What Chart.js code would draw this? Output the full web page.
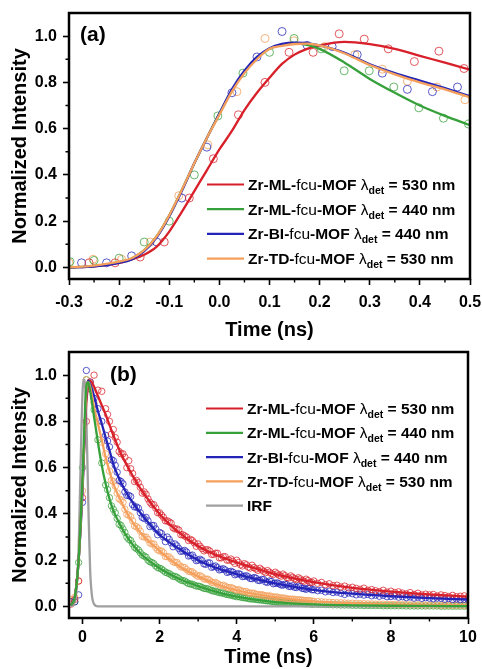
<!DOCTYPE html>
<html>
<head>
<meta charset="utf-8">
<script src="https://cdn.jsdelivr.net/npm/chart.js@4.4.1/dist/chart.umd.min.js"></script>
<style>
  html, body { margin: 0; padding: 0; background: #fff; }
  #wrapA { position: absolute; left: 0; top: 0; width: 482px; height: 345px; }
  #wrapB { position: absolute; left: 0; top: 345px; width: 482px; height: 324px; }
</style>
</head>
<body>
<div id="wrapA"><canvas id="chartA"></canvas></div>
<div id="wrapB"><canvas id="chartB"></canvas></div>
<script>
// ---- legend text ----
const legendNames = ['Zr-ML-fcu-MOF', 'Zr-ML-fcu-MOF', 'Zr-BI-fcu-MOF', 'Zr-TD-fcu-MOF'];
const legendWaves = ['530', '440', '440', '530'];

// ---- panel (a): rise, -0.3 .. 0.5 ns ----
const xTicksA = [-0.3, -0.2, -0.1, 0, 0.1, 0.2, 0.3, 0.4, 0.5];
const xMinorA = [-0.25, -0.15, -0.05, 0.05, 0.15, 0.25, 0.35, 0.45];
const yTicks = [0, 0.2, 0.4, 0.6, 0.8, 1.0];
const yMinor = [0.1, 0.3, 0.5, 0.7, 0.9];

const tRedA = [-0.26, -0.208, -0.158, -0.11, -0.06, -0.012, 0.038, 0.091, 0.139, 0.187, 0.239, 0.289, 0.337, 0.389, 0.438, 0.488];
const redA = [0.02, 0.02, 0.045, 0.11, 0.30, 0.47, 0.66, 0.80, 0.93, 0.93, 1.01, 0.987, 0.945, 0.89, 0.935, 0.86];
const tGreenA = [-0.298, -0.25, -0.2, -0.15, -0.1, -0.05, -0.003, 0.047, 0.1, 0.149, 0.203, 0.249, 0.299, 0.348, 0.398, 0.447, 0.497];
const greenA = [0.025, 0.03, 0.04, 0.11, 0.2, 0.40, 0.655, 0.84, 0.93, 0.99, 0.945, 0.85, 0.85, 0.78, 0.69, 0.645, 0.62];
const tBlueA = [-0.275, -0.225, -0.175, -0.125, -0.075, -0.025, 0.025, 0.075, 0.125, 0.175, 0.225, 0.275, 0.325, 0.375, 0.425, 0.475];
const blueA = [0.02, 0.02, 0.05, 0.11, 0.30, 0.52, 0.755, 0.91, 1.02, 0.96, 0.955, 0.92, 0.84, 0.77, 0.76, 0.78];
const tOrangeA = [-0.30, -0.252, -0.195, -0.138, -0.081, -0.023, 0.035, 0.091, 0.149, 0.21, 0.27, 0.325, 0.375, 0.434, 0.49];
const orangeA = [0.02, 0.035, 0.035, 0.11, 0.31, 0.53, 0.76, 0.99, 0.98, 0.955, 0.92, 0.857, 0.805, 0.78, 0.725];

// fitted curves (a)
const tFitA = [-0.3, -0.25, -0.2, -0.175, -0.15, -0.125, -0.1, -0.075, -0.05, -0.025, 0, 0.025, 0.05, 0.075, 0.1, 0.125, 0.15, 0.175, 0.2, 0.25, 0.3, 0.35, 0.4, 0.45, 0.5];
const redFitA = [0, 0.005, 0.02, 0.035, 0.055, 0.09, 0.155, 0.24, 0.33, 0.42, 0.51, 0.59, 0.68, 0.755, 0.82, 0.88, 0.92, 0.945, 0.96, 0.975, 0.965, 0.945, 0.915, 0.885, 0.855];
const greenFitA = [0, 0.006, 0.022, 0.038, 0.075, 0.135, 0.225, 0.335, 0.45, 0.56, 0.665, 0.765, 0.845, 0.905, 0.945, 0.962, 0.968, 0.962, 0.945, 0.885, 0.815, 0.755, 0.70, 0.655, 0.615];
const blueFitA = [0, 0.005, 0.02, 0.035, 0.07, 0.13, 0.22, 0.33, 0.45, 0.56, 0.665, 0.77, 0.85, 0.91, 0.948, 0.966, 0.972, 0.97, 0.96, 0.928, 0.878, 0.84, 0.808, 0.775, 0.74];
const orangeFitA = [0, 0.008, 0.025, 0.04, 0.075, 0.135, 0.225, 0.335, 0.45, 0.56, 0.66, 0.76, 0.84, 0.9, 0.945, 0.958, 0.966, 0.968, 0.96, 0.925, 0.875, 0.835, 0.8, 0.77, 0.735];

// ---- panel (b): decay, -0.35 .. 10 ns ----
const xTicksB = [0, 2, 4, 6, 8, 10];
const xMinorB = [1, 3, 5, 7, 9];

const tB = [
  -0.3, -0.2, -0.1, 0, 0.1, 0.2, 0.3, 0.4, 0.5, 0.6,
  0.7, 0.8, 0.9, 1.0, 1.1, 1.2, 1.3, 1.4, 1.5, 1.6,
  1.7, 1.8, 1.9, 2.0, 2.1, 2.2, 2.3, 2.4, 2.5, 2.6,
  2.7, 2.8, 2.9, 3.0, 3.1, 3.2, 3.3, 3.4, 3.5, 3.6,
  3.7, 3.8, 3.9, 4.0, 4.1, 4.2, 4.3, 4.4, 4.5, 4.6,
  4.7, 4.8, 4.9, 5.0, 5.1, 5.2, 5.3, 5.4, 5.5, 5.6,
  5.7, 5.8, 5.9, 6.0, 6.1, 6.2, 6.3, 6.4, 6.5, 6.6,
  6.7, 6.8, 6.9, 7.0, 7.1, 7.2, 7.3, 7.4, 7.5, 7.6,
  7.7, 7.8, 7.9, 8.0, 8.1, 8.2, 8.3, 8.4, 8.5, 8.6,
  8.7, 8.8, 8.9, 9.0, 9.1, 9.2, 9.3, 9.4, 9.5, 9.6,
  9.7, 9.8, 9.9, 10.0
];
const redB = [
  0.01, 0.03, 0.11, 0.47, 0.80, 0.97, 1.00, 0.935, 0.93, 0.855,
  0.80, 0.765, 0.71, 0.66, 0.645, 0.63, 0.575, 0.545, 0.515, 0.495,
  0.465, 0.44, 0.425, 0.405, 0.385, 0.37, 0.36, 0.335, 0.33, 0.31,
  0.30, 0.29, 0.275, 0.27, 0.25, 0.245, 0.24, 0.225, 0.23, 0.21,
  0.215, 0.20, 0.195, 0.20, 0.18, 0.185, 0.17, 0.178, 0.162, 0.165,
  0.152, 0.155, 0.142, 0.148, 0.135, 0.14, 0.125, 0.132, 0.12, 0.124,
  0.112, 0.118, 0.104, 0.11, 0.10, 0.104, 0.094, 0.098, 0.09, 0.092,
  0.084, 0.088, 0.08, 0.083, 0.078, 0.074, 0.079, 0.07, 0.073, 0.068,
  0.064, 0.07, 0.062, 0.066, 0.06, 0.063, 0.058, 0.054, 0.06, 0.052,
  0.057, 0.05, 0.053, 0.05, 0.052, 0.045, 0.05, 0.047, 0.043, 0.048,
  0.042, 0.044, 0.046, 0.04
];
const greenB = [
  0.02, 0.02, 0.19, 0.60, 0.98, 0.94, 0.85, 0.72, 0.62, 0.525,
  0.47, 0.42, 0.38, 0.35, 0.32, 0.29, 0.27, 0.25, 0.232, 0.218,
  0.2, 0.19, 0.175, 0.165, 0.155, 0.145, 0.136, 0.13, 0.12, 0.112,
  0.104, 0.097, 0.092, 0.088, 0.082, 0.077, 0.072, 0.066, 0.062, 0.058,
  0.054, 0.05, 0.046, 0.042, 0.04, 0.037, 0.034, 0.032, 0.03, 0.028,
  0.026, 0.024, 0.022, 0.019, 0.018, 0.017, 0.016, 0.015, 0.014, 0.013,
  0.012, 0.011, 0.011, 0.01, 0.009, 0.009, 0.008, 0.008, 0.007, 0.007,
  0.006, 0.006, 0.006, 0.005, 0.005, 0.005, 0.004, 0.004, 0.004, 0.004,
  0.004, 0.003, 0.003, 0.003, 0.003, 0.003, 0.003, 0.002, 0.002, 0.002,
  0.002, 0.002, 0.002, 0.002, 0.002, 0.002, 0.001, 0.001, 0.001, 0.001,
  0.001, 0.001, 0.001, 0.001
];
const blueB = [
  0.02, 0.02, 0.05, 0.45, 1.02, 0.97, 0.90, 0.855, 0.80, 0.74,
  0.69, 0.63, 0.58, 0.54, 0.495, 0.48, 0.44, 0.43, 0.405, 0.38,
  0.37, 0.35, 0.335, 0.32, 0.30, 0.30, 0.275, 0.27, 0.25, 0.24,
  0.235, 0.22, 0.21, 0.20, 0.198, 0.182, 0.188, 0.172, 0.168, 0.16,
  0.158, 0.15, 0.148, 0.14, 0.138, 0.13, 0.128, 0.12, 0.122, 0.112,
  0.116, 0.104, 0.108, 0.10, 0.098, 0.092, 0.094, 0.086, 0.083, 0.088,
  0.078, 0.074, 0.079, 0.072, 0.068, 0.07, 0.063, 0.066, 0.06, 0.062,
  0.057, 0.052, 0.058, 0.055, 0.05, 0.053, 0.049, 0.052, 0.046, 0.049,
  0.044, 0.048, 0.042, 0.043, 0.045, 0.04, 0.042, 0.038, 0.041, 0.036,
  0.04, 0.035, 0.038, 0.036, 0.033, 0.036, 0.035, 0.031, 0.034, 0.03,
  0.032, 0.029, 0.031, 0.03
];
const orangeB = [
  0.03, 0.04, 0.11, 0.50, 0.98, 0.96, 0.88, 0.80, 0.71, 0.66,
  0.585, 0.54, 0.49, 0.46, 0.42, 0.395, 0.37, 0.345, 0.325, 0.30,
  0.29, 0.27, 0.255, 0.24, 0.232, 0.215, 0.205, 0.19, 0.18, 0.17,
  0.16, 0.15, 0.142, 0.13, 0.128, 0.118, 0.112, 0.102, 0.098, 0.09,
  0.088, 0.08, 0.078, 0.07, 0.068, 0.064, 0.058, 0.057, 0.052, 0.05,
  0.048, 0.044, 0.043, 0.04, 0.037, 0.036, 0.032, 0.031, 0.03, 0.028,
  0.027, 0.025, 0.024, 0.022, 0.021, 0.02, 0.019, 0.018, 0.017, 0.016,
  0.016, 0.015, 0.014, 0.014, 0.013, 0.012, 0.012, 0.011, 0.011, 0.01,
  0.01, 0.01, 0.009, 0.009, 0.009, 0.008, 0.008, 0.008, 0.007, 0.007,
  0.007, 0.007, 0.006, 0.006, 0.006, 0.006, 0.005, 0.005, 0.005, 0.005,
  0.005, 0.005, 0.004, 0.005
];

// in-between samples, 0.65 .. 5.95 ns
const tB2 = [
  0.65, 0.75, 0.85, 0.95, 1.05, 1.15, 1.25, 1.35, 1.45, 1.55,
  1.65, 1.75, 1.85, 1.95, 2.05, 2.15, 2.25, 2.35, 2.45, 2.55,
  2.65, 2.75, 2.85, 2.95, 3.05, 3.15, 3.25, 3.35, 3.45, 3.55,
  3.65, 3.75, 3.85, 3.95, 4.05, 4.15, 4.25, 4.35, 4.45, 4.55,
  4.65, 4.75, 4.85, 4.95, 5.05, 5.15, 5.25, 5.35, 5.45, 5.55,
  5.65, 5.75, 5.85, 5.95
];
const redB2 = [
  0.83, 0.745, 0.73, 0.67, 0.66, 0.60, 0.595, 0.54, 0.535, 0.49,
  0.485, 0.45, 0.44, 0.405, 0.395, 0.37, 0.365, 0.34, 0.335, 0.31,
  0.305, 0.285, 0.285, 0.26, 0.26, 0.24, 0.245, 0.225, 0.23, 0.21,
  0.215, 0.2, 0.205, 0.186, 0.19, 0.175, 0.18, 0.166, 0.168, 0.156,
  0.158, 0.146, 0.148, 0.138, 0.141, 0.131, 0.133, 0.123, 0.126, 0.116,
  0.119, 0.109, 0.112, 0.104
];
const blueB2 = [
  0.715, 0.635, 0.61, 0.545, 0.53, 0.48, 0.475, 0.43, 0.425, 0.385,
  0.385, 0.345, 0.35, 0.31, 0.315, 0.28, 0.29, 0.258, 0.262, 0.238,
  0.242, 0.218, 0.222, 0.198, 0.204, 0.184, 0.188, 0.169, 0.175, 0.158,
  0.163, 0.147, 0.152, 0.137, 0.142, 0.129, 0.133, 0.121, 0.125, 0.113,
  0.117, 0.106, 0.11, 0.098, 0.102, 0.093, 0.096, 0.087, 0.09, 0.082,
  0.085, 0.077, 0.079, 0.072
];
const orangeB2 = [
  0.63, 0.545, 0.52, 0.465, 0.45, 0.398, 0.388, 0.348, 0.338, 0.303,
  0.3, 0.274, 0.27, 0.245, 0.24, 0.216, 0.214, 0.193, 0.19, 0.171,
  0.168, 0.152, 0.15, 0.135, 0.133, 0.119, 0.118, 0.105, 0.104, 0.093,
  0.092, 0.083, 0.082, 0.074, 0.073, 0.066, 0.065, 0.058, 0.057, 0.052,
  0.051, 0.046, 0.046, 0.041, 0.041, 0.037, 0.036, 0.032, 0.032, 0.029,
  0.029, 0.026, 0.026, 0.023
];
const greenB2 = [
  0.505, 0.435, 0.405, 0.355, 0.335, 0.3, 0.285, 0.256, 0.244, 0.222,
  0.213, 0.193, 0.185, 0.168, 0.162, 0.148, 0.142, 0.13, 0.126, 0.114,
  0.11, 0.099, 0.096, 0.088, 0.086, 0.078, 0.076, 0.069, 0.066, 0.06,
  0.058, 0.052, 0.05, 0.045, 0.043, 0.039, 0.037, 0.033, 0.032, 0.029,
  0.028, 0.025, 0.024, 0.021, 0.02, 0.018, 0.018, 0.016, 0.016, 0.014,
  0.014, 0.012, 0.012, 0.01
];

// fitted curves (b)
const tFitB = [-0.3, -0.2, -0.1, 0, 0.1, 0.15, 0.2, 0.3, 0.4, 0.5, 0.6, 0.7, 0.8, 1.0, 1.2, 1.5, 2, 2.5, 3, 3.5, 4, 5, 6, 7, 8, 9, 10];
const redFitB = [0.005, 0.04, 0.2, 0.52, 0.88, 0.955, 0.975, 0.95, 0.91, 0.87, 0.83, 0.785, 0.74, 0.66, 0.595, 0.51, 0.40, 0.32, 0.26, 0.22, 0.19, 0.14, 0.105, 0.08, 0.064, 0.052, 0.042];
const greenFitB = [0.005, 0.04, 0.2, 0.55, 0.95, 0.97, 0.93, 0.82, 0.71, 0.61, 0.53, 0.465, 0.415, 0.345, 0.29, 0.23, 0.165, 0.12, 0.088, 0.062, 0.042, 0.019, 0.009, 0.005, 0.003, 0.002, 0.001];
const blueFitB = [0.005, 0.04, 0.2, 0.5, 0.92, 0.975, 0.96, 0.91, 0.845, 0.79, 0.73, 0.675, 0.615, 0.535, 0.475, 0.405, 0.31, 0.25, 0.20, 0.165, 0.14, 0.10, 0.072, 0.055, 0.044, 0.036, 0.03];
const orangeFitB = [0.005, 0.04, 0.2, 0.52, 0.93, 0.97, 0.95, 0.86, 0.79, 0.72, 0.645, 0.585, 0.53, 0.455, 0.39, 0.32, 0.24, 0.175, 0.13, 0.095, 0.07, 0.04, 0.022, 0.014, 0.009, 0.007, 0.005];
const tIrf = [-0.3, -0.2, -0.15, -0.1, -0.05, 0, 0.04, 0.08, 0.12, 0.16, 0.2, 0.25, 0.3, 0.4, 1, 10];
const irf = [0, 0.02, 0.08, 0.25, 0.6, 0.92, 0.98, 0.92, 0.68, 0.38, 0.15, 0.04, 0.01, 0, 0, 0];

// ---------------------------------------------------------------
Chart.defaults.font.family = '"Liberation Sans", Arial, sans-serif';
Chart.defaults.color = '#000';

const colors = ['#D8202A', '#36A03A', '#2323B8', '#F4A05C'];
const dotColors = ['rgba(216,32,42,0.75)', 'rgba(54,160,58,0.75)', 'rgba(35,35,184,0.75)', 'rgba(244,160,92,0.8)'];
const irfColor = '#A0A0A0';
const FONT = '"Liberation Sans", Arial, sans-serif';

function pts(ts, vs) {
  return ts.map((t, i) => ({ x: t, y: vs[i] }));
}

function fitSet(ts, vs, color, order) {
  return {
    type: 'line', data: pts(ts, vs), borderColor: color, borderWidth: 2.3,
    pointRadius: 0, fill: false, cubicInterpolationMode: 'monotone', order: order
  };
}

function dotSet(ts, vs, color, r) {
  return {
    type: 'scatter', data: pts(ts, vs), showLine: false, borderColor: color,
    backgroundColor: 'transparent', pointRadius: r, pointBorderWidth: 1, order: 10
  };
}

function labelRuns(name, wave) {
  const parts = name.split('fcu');
  return [
    { t: parts[0], b: true }, { t: 'fcu', b: false }, { t: parts[1] + ' ', b: true },
    { t: 'λ', b: false }, { t: 'det', b: true, sub: true }, { t: ' = ' + wave + ' nm', b: true }
  ];
}

function drawRuns(ctx, x, y, runs) {
  runs.forEach(r => {
    ctx.font = (r.b ? 'bold ' : '') + (r.sub ? '10.5px ' : '15.5px ') + FONT;
    ctx.fillText(r.t, x, r.sub ? y + 4 : y);
    x += ctx.measureText(r.t).width;
  });
}

// frame, minor ticks, panel tag and legend
const decor = {
  id: 'decor',
  afterDraw(chart, args, o) {
    const ctx = chart.ctx, a = chart.chartArea;
    const sx = chart.scales.x, sy = chart.scales.y;
    ctx.save();
    ctx.strokeStyle = '#000';
    ctx.lineWidth = 1.4;
    ctx.beginPath();
    o.xMinor.forEach(v => {
      const px = sx.getPixelForValue(v);
      ctx.moveTo(px, a.bottom); ctx.lineTo(px, a.bottom + 3.5);
    });
    o.yMinor.forEach(v => {
      const py = sy.getPixelForValue(v);
      ctx.moveTo(a.left, py); ctx.lineTo(a.left - 3.5, py);
    });
    ctx.stroke();
    ctx.lineWidth = 2.5;
    ctx.strokeRect(a.left, a.top, a.right - a.left, a.bottom - a.top);

    ctx.fillStyle = '#000';
    ctx.textBaseline = 'middle';
    ctx.font = 'bold 21px ' + FONT;
    ctx.fillText(o.tag, o.tagX, o.tagY);

    ctx.textBaseline = 'alphabetic';
    o.entries.forEach((e, i) => {
      const y = o.legY + i * o.legStep;
      ctx.strokeStyle = e.color;
      ctx.lineWidth = 2.2;
      ctx.beginPath(); ctx.moveTo(o.legX, y); ctx.lineTo(o.legX + 37, y); ctx.stroke();
      ctx.fillStyle = '#000';
      drawRuns(ctx, o.legX + 41, y + 5.5, e.runs);
    });
    ctx.restore();
  }
};

function axes(o) {
  return {
    x: {
      type: 'linear', min: o.xMin, max: o.xMax,
      afterBuildTicks: s => { s.ticks = o.xTicks.map(v => ({ value: v })); },
      afterFit: s => { s.height = o.xH; s.paddingLeft = 0; s.paddingRight = 0; },
      ticks: {
        font: { size: 16, weight: 'bold' }, color: '#000', padding: o.xPad,
        maxRotation: 0, autoSkip: false, callback: o.xFmt
      },
      grid: { drawOnChartArea: false, drawTicks: true, tickLength: 6, tickWidth: 1.6, tickColor: '#000' },
      border: { display: false },
      title: { display: true, text: 'Time (ns)', color: '#000', font: { size: 20, weight: 'bold' }, padding: { top: 0, bottom: o.titlePad } }
    },
    y: {
      type: 'linear', min: -0.05, max: 1.1,
      afterBuildTicks: s => { s.ticks = yTicks.map(v => ({ value: v })); },
      afterFit: s => { s.width = 69; s.paddingTop = 0; s.paddingBottom = 0; },
      ticks: { font: { size: 16, weight: 'bold' }, color: '#000', padding: 6, callback: v => v.toFixed(1) },
      grid: { drawOnChartArea: false, drawTicks: true, tickLength: 6, tickWidth: 1.6, tickColor: '#000' },
      border: { display: false },
      title: { display: true, text: 'Normalized Intensity', color: '#000', font: { size: 20, weight: 'bold' }, padding: { top: 8, bottom: 0 } }
    }
  };
}

const entriesMain = legendNames.map((n, i) => ({ color: colors[i], runs: labelRuns(n, legendWaves[i]) }));

new Chart(document.getElementById('chartA'), {
  type: 'scatter',
  data: {
    datasets: [
      fitSet(tFitA, redFitA, colors[0], 4),
      fitSet(tFitA, greenFitA, colors[1], 3),
      fitSet(tFitA, blueFitA, colors[2], 2),
      fitSet(tFitA, orangeFitA, colors[3], 1),
      dotSet(tRedA, redA, dotColors[0], 4),
      dotSet(tGreenA, greenA, dotColors[1], 4),
      dotSet(tBlueA, blueA, dotColors[2], 4),
      dotSet(tOrangeA, orangeA, dotColors[3], 4)
    ]
  },
  options: {
    responsive: true, maintainAspectRatio: false, animation: false, events: [],
    layout: { padding: { top: 13, right: 12, left: 0, bottom: 0 } },
    scales: axes({ xMin: -0.3, xMax: 0.5, xTicks: xTicksA, xH: 66, xPad: 8, titlePad: 3, xFmt: v => v.toFixed(1) }),
    plugins: {
      legend: { display: false }, tooltip: { enabled: false },
      decor: { xMinor: xMinorA, yMinor: yMinor, tag: '(a)', tagX: 80, tagY: 35, legX: 207, legY: 184.5, legStep: 24.7, entries: entriesMain }
    }
  },
  plugins: [decor]
});

new Chart(document.getElementById('chartB'), {
  type: 'scatter',
  data: {
    datasets: [
      fitSet(tIrf, irf, irfColor, 5),
      fitSet(tFitB, redFitB, colors[0], 4),
      fitSet(tFitB, blueFitB, colors[2], 3),
      fitSet(tFitB, orangeFitB, colors[3], 2),
      fitSet(tFitB, greenFitB, colors[1], 1),
      dotSet(tB, redB, dotColors[0], 3.2),
      dotSet(tB2, redB2, dotColors[0], 3.2),
      dotSet(tB, blueB, dotColors[2], 3.2),
      dotSet(tB2, blueB2, dotColors[2], 3.2),
      dotSet(tB, orangeB, dotColors[3], 3.2),
      dotSet(tB2, orangeB2, dotColors[3], 3.2),
      dotSet(tB, greenB, dotColors[1], 3.2),
      dotSet(tB2, greenB2, dotColors[1], 3.2)
    ]
  },
  options: {
    responsive: true, maintainAspectRatio: false, animation: false, events: [],
    layout: { padding: { top: 7, right: 14, left: 0, bottom: 0 } },
    scales: axes({ xMin: -0.35, xMax: 10, xTicks: xTicksB, xH: 51, xPad: 3.5, titlePad: 0, xFmt: v => String(v) }),
    plugins: {
      legend: { display: false }, tooltip: { enabled: false },
      decor: {
        xMinor: xMinorB, yMinor: yMinor, tag: '(b)', tagX: 110, tagY: 30, legX: 206, legY: 63.5, legStep: 24.3,
        entries: entriesMain.concat([{ color: irfColor, runs: [{ t: 'IRF', b: true }] }])
      }
    }
  },
  plugins: [decor]
});
</script>
</body>
</html>
